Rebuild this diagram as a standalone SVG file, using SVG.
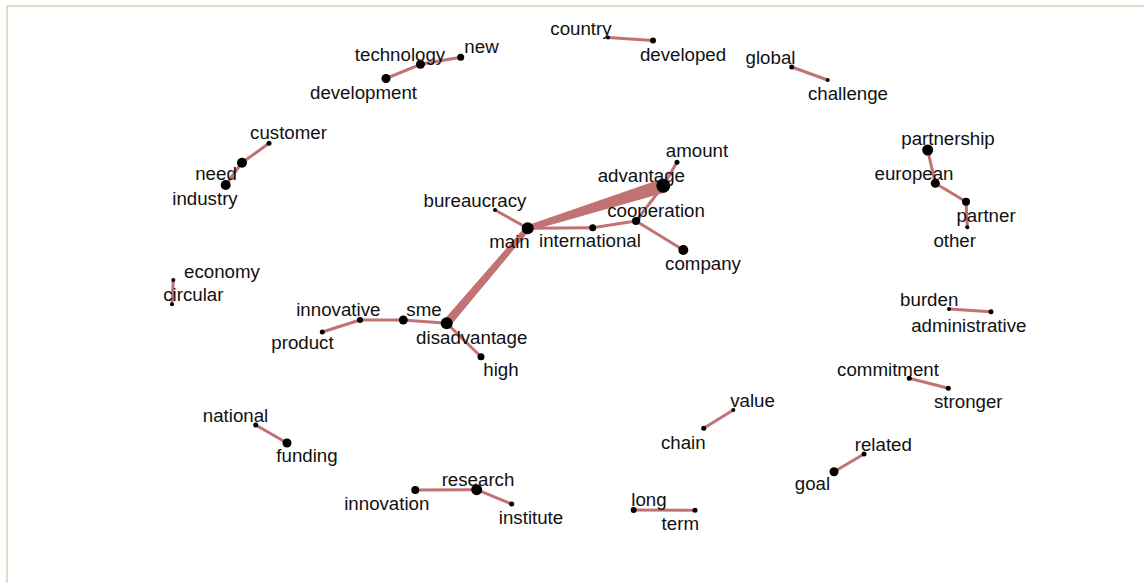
<svg xmlns="http://www.w3.org/2000/svg" width="1144" height="583" viewBox="0 0 1144 583">
  <style>
    .edge { stroke: #c17373; stroke-width: 3; stroke-linecap: round; fill: none; }
    .edge-fill { fill: #c17373; stroke: #c17373; stroke-width: 1; stroke-linejoin: round; }
    .node circle { fill: #000; }
    .node text { font-family: "Liberation Sans", Arial, sans-serif; font-size: 18.7px; fill: #111; text-anchor: middle; }
  </style>
  <rect x="0" y="0" width="1144" height="583" fill="#fff"/>
  <rect x="7" y="6" width="1200" height="640" fill="#fff" stroke="#e2ddc9" stroke-width="2"/>

  <g id="connectors">
    <line class="edge" x1="386" y1="78.5" x2="420.5" y2="64.3"/>
    <line class="edge" x1="420.5" y1="64.3" x2="460.7" y2="57.3"/>
    <line class="edge" x1="608" y1="37.5" x2="653" y2="40.5"/>
    <line class="edge" x1="791.7" y1="67" x2="827.7" y2="80"/>
    <line class="edge" x1="927.7" y1="150" x2="935.3" y2="183.3"/>
    <line class="edge" x1="935.3" y1="183.3" x2="966" y2="201.7"/>
    <line class="edge" x1="966" y1="201.7" x2="967.3" y2="227.3"/>
    <line class="edge" x1="269" y1="143.3" x2="242" y2="162.7"/>
    <line class="edge" x1="242" y1="162.7" x2="225.7" y2="185"/>
    <line class="edge" x1="173.3" y1="280" x2="172" y2="304.3"/>
    <line class="edge" x1="495" y1="210" x2="527.7" y2="228.3"/>
    <line class="edge" x1="527.7" y1="228.3" x2="592.7" y2="227.7"/>
    <line class="edge" x1="592.7" y1="227.7" x2="636" y2="221"/>
    <line class="edge" x1="636" y1="221" x2="663.3" y2="185.7"/>
    <line class="edge" x1="636" y1="221" x2="683.3" y2="250"/>
    <line class="edge" x1="663.3" y1="185.7" x2="677" y2="162.3"/>
    <polygon class="edge-fill" points="526.95,225.92 661.35,179.5 665.25,191.9 528.45,230.69"/>
    <polygon class="edge-fill" points="529.6,229.9 525.8,226.7 443.66,320.7 449.74,325.9"/>
    <line class="edge" x1="322.3" y1="332" x2="360" y2="320"/>
    <line class="edge" x1="360" y1="320" x2="403.3" y2="320"/>
    <line class="edge" x1="403.3" y1="320" x2="446.7" y2="323.3"/>
    <line class="edge" x1="446.7" y1="323.3" x2="481" y2="356.7"/>
    <line class="edge" x1="255.7" y1="425" x2="287" y2="443"/>
    <line class="edge" x1="415.3" y1="490" x2="476.7" y2="489.7"/>
    <line class="edge" x1="476.7" y1="489.7" x2="511.7" y2="504"/>
    <line class="edge" x1="733.3" y1="410" x2="703.7" y2="428.3"/>
    <line class="edge" x1="633.7" y1="510" x2="695" y2="510.3"/>
    <line class="edge" x1="864" y1="454" x2="834" y2="471.7"/>
    <line class="edge" x1="949" y1="309" x2="991" y2="311.7"/>
    <line class="edge" x1="909.3" y1="378.3" x2="948.3" y2="388.3"/>
  </g>

  <g id="node-technology" class="node"><circle cx="420.5" cy="64.3" r="4.5"/><text x="400" y="61">technology</text></g>
  <g id="node-new" class="node"><circle cx="460.7" cy="57.3" r="3.5"/><text x="481.5" y="53">new</text></g>
  <g id="node-development" class="node"><circle cx="386" cy="78.5" r="4.5"/><text x="363.5" y="98.5">development</text></g>
  <g id="node-country" class="node"><circle cx="608" cy="37.5" r="2"/><text x="581" y="35">country</text></g>
  <g id="node-developed" class="node"><circle cx="653" cy="40.5" r="3"/><text x="683" y="60.5">developed</text></g>
  <g id="node-global" class="node"><circle cx="791.7" cy="67" r="2.5"/><text x="770.5" y="63.5">global</text></g>
  <g id="node-challenge" class="node"><circle cx="827.7" cy="80" r="2"/><text x="848" y="99.5">challenge</text></g>
  <g id="node-partnership" class="node"><circle cx="927.7" cy="150" r="5.5"/><text x="948" y="145">partnership</text></g>
  <g id="node-european" class="node"><circle cx="935.3" cy="183.3" r="4.5"/><text x="914" y="180">european</text></g>
  <g id="node-partner" class="node"><circle cx="966" cy="201.7" r="4"/><text x="986" y="222">partner</text></g>
  <g id="node-other" class="node"><circle cx="967.3" cy="227.3" r="2"/><text x="954.7" y="247">other</text></g>
  <g id="node-customer" class="node"><circle cx="269" cy="143.3" r="2.5"/><text x="288.5" y="138.5">customer</text></g>
  <g id="node-need" class="node"><circle cx="242" cy="162.7" r="5"/><text x="216" y="180">need</text></g>
  <g id="node-industry" class="node"><circle cx="225.7" cy="185" r="5"/><text x="205" y="204.5">industry</text></g>
  <g id="node-economy" class="node"><circle cx="173.3" cy="280" r="2"/><text x="222" y="278">economy</text></g>
  <g id="node-circular" class="node"><circle cx="172" cy="304.3" r="2"/><text x="193.3" y="301">circular</text></g>
  <g id="node-bureaucracy" class="node"><circle cx="495" cy="210" r="2"/><text x="475" y="207">bureaucracy</text></g>
  <g id="node-main" class="node"><circle cx="527.7" cy="228.3" r="6"/><text x="509.5" y="247.5">main</text></g>
  <g id="node-amount" class="node"><circle cx="677" cy="162.3" r="2.5"/><text x="697" y="157">amount</text></g>
  <g id="node-advantage" class="node"><circle cx="663.3" cy="185.7" r="7"/><text x="641.3" y="182">advantage</text></g>
  <g id="node-cooperation" class="node"><circle cx="636" cy="221" r="4"/><text x="656" y="216.5">cooperation</text></g>
  <g id="node-international" class="node"><circle cx="592.7" cy="227.7" r="3.5"/><text x="590" y="246.5">international</text></g>
  <g id="node-company" class="node"><circle cx="683.3" cy="250" r="5"/><text x="703" y="270">company</text></g>
  <g id="node-innovative" class="node"><circle cx="360" cy="320" r="3"/><text x="338.3" y="316">innovative</text></g>
  <g id="node-product" class="node"><circle cx="322.3" cy="332" r="2.5"/><text x="302.5" y="349">product</text></g>
  <g id="node-sme" class="node"><circle cx="403.3" cy="320" r="4.5"/><text x="424" y="316">sme</text></g>
  <g id="node-disadvantage" class="node"><circle cx="446.7" cy="323.3" r="6"/><text x="471.7" y="343.5">disadvantage</text></g>
  <g id="node-high" class="node"><circle cx="481" cy="356.7" r="3.5"/><text x="501" y="376">high</text></g>
  <g id="node-national" class="node"><circle cx="255.7" cy="425" r="2.5"/><text x="235.5" y="422">national</text></g>
  <g id="node-funding" class="node"><circle cx="287" cy="443" r="4.5"/><text x="307" y="461.5">funding</text></g>
  <g id="node-innovation" class="node"><circle cx="415.3" cy="490" r="4"/><text x="386.8" y="509.5">innovation</text></g>
  <g id="node-research" class="node"><circle cx="476.7" cy="489.7" r="5.5"/><text x="478" y="485.5">research</text></g>
  <g id="node-institute" class="node"><circle cx="511.7" cy="504" r="2.5"/><text x="531" y="523.5">institute</text></g>
  <g id="node-value" class="node"><circle cx="733.3" cy="410" r="2"/><text x="752.5" y="406.5">value</text></g>
  <g id="node-chain" class="node"><circle cx="703.7" cy="428.3" r="2.5"/><text x="683.3" y="448.5">chain</text></g>
  <g id="node-long" class="node"><circle cx="633.7" cy="510" r="3"/><text x="649" y="505.5">long</text></g>
  <g id="node-term" class="node"><circle cx="695" cy="510.3" r="2.5"/><text x="680.3" y="530">term</text></g>
  <g id="node-related" class="node"><circle cx="864" cy="454" r="2.5"/><text x="883.3" y="450.5">related</text></g>
  <g id="node-goal" class="node"><circle cx="834" cy="471.7" r="4.5"/><text x="812.5" y="490">goal</text></g>
  <g id="node-burden" class="node"><circle cx="949" cy="309" r="2"/><text x="929.2" y="305.5">burden</text></g>
  <g id="node-administrative" class="node"><circle cx="991" cy="311.7" r="2.5"/><text x="968.8" y="332">administrative</text></g>
  <g id="node-commitment" class="node"><circle cx="909.3" cy="378.3" r="2.5"/><text x="888" y="375.5">commitment</text></g>
  <g id="node-stronger" class="node"><circle cx="948.3" cy="388.3" r="2.5"/><text x="968.3" y="408">stronger</text></g>
</svg>
